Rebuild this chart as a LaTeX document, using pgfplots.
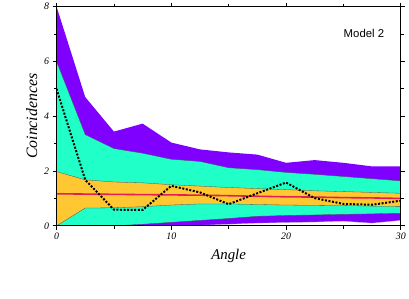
\documentclass[border=0pt]{standalone}
\usepackage{pgfplots}
\pgfplotsset{compat=1.18}
\usepackage{pgfplotstable}
\usepgfplotslibrary{fillbetween}
\usepackage{fontspec}
\setmainfont{Liberation Serif}
\newfontfamily\helv{Liberation Sans}
\definecolor{cpurple}{RGB}{127,0,255}
\definecolor{ccyan}{RGB}{32,255,200}
\definecolor{corange}{RGB}{255,200,50}
\definecolor{cred}{RGB}{225,30,85}
\pgfplotstableread{
x    pt    ct    ot    r     ob    cb    pb    dot
0    8.00  6.00  1.98  1.17  0.00  0.00  0.00  5.00
2.5  4.70  3.33  1.68  1.16  0.65  0.00  0.00  1.68
5    3.44  2.82  1.60  1.15  0.66  0.00  0.00  0.59
7.5  3.73  2.65  1.57  1.14  0.70  0.06  0.00  0.58
10   3.04  2.43  1.50  1.13  0.76  0.13  0.00  1.46
12.5 2.79  2.35  1.45  1.12  0.80  0.20  0.02  1.22
15   2.68  2.12  1.40  1.10  0.80  0.27  0.06  0.79
17.5 2.60  2.05  1.36  1.08  0.78  0.35  0.10  1.19
20   2.30  1.95  1.32  1.06  0.76  0.38  0.12  1.58
22.5 2.40  1.88  1.28  1.05  0.75  0.40  0.14  1.01
25   2.30  1.80  1.25  1.03  0.74  0.42  0.17  0.80
27.5 2.17  1.72  1.22  1.02  0.72  0.44  0.10  0.77
30   2.17  1.64  1.19  1.00  0.71  0.46  0.20  0.92
}\data
\begin{document}
\begin{tikzpicture}
\begin{axis}[
  at={(0,0)}, anchor=south west,
  scale only axis, width=347bp, height=221bp,
  xmin=0, xmax=30, ymin=0, ymax=8,
  xtick={0,10,20,30}, minor xtick={5,15,25},
  ytick={0,2,4,6,8}, minor ytick={1,3,5,7},
  tick align=outside,
  major tick length=4bp, minor tick length=3bp,
  tick style={black, line width=0.8bp},
  axis line style={black, line width=1.2bp},
  axis on top,
  /pgf/number format/assume math mode=true,
  tick label style={font=\itshape\fontsize{10}{10}\selectfont},
  xlabel={\itshape\fontsize{15}{15}\selectfont Angle},
  ylabel={\itshape\fontsize{16}{16}\selectfont Coincidences},
  xlabel style={at={(axis description cs:0.5,0)}, anchor=north, yshift=-20bp},
  ylabel style={at={(axis description cs:0,0.5)}, anchor=south, yshift=16bp},
]
\addplot[name path=pt, draw=none] table[x=x,y=pt]{\data};
\addplot[name path=ct, draw=none] table[x=x,y=ct]{\data};
\addplot[name path=ot, draw=none] table[x=x,y=ot]{\data};
\addplot[name path=ob, draw=none] table[x=x,y=ob]{\data};
\addplot[name path=cb, draw=none] table[x=x,y=cb]{\data};
\addplot[name path=pb, draw=none] table[x=x,y=pb]{\data};
\addplot[cpurple] fill between[of=pt and pb];
\addplot[ccyan] fill between[of=ct and cb];
\addplot[corange] fill between[of=ot and ob];
\addplot[gray!60!black, line width=0.3bp] table[x=x,y=ct]{\data};
\addplot[gray!60!black, line width=0.3bp] table[x=x,y=ot]{\data};
\addplot[gray!60!black, line width=0.3bp] table[x=x,y=ob]{\data};
\addplot[gray!60!black, line width=0.3bp] table[x=x,y=cb]{\data};
\addplot[gray!50, line width=0.3bp] table[x=x,y=pb]{\data};
\addplot[cred, line width=1.6bp] table[x=x,y=r]{\data};
\addplot[black, line width=2bp, dash pattern=on 2bp off 1.6bp] table[x=x,y=dot]{\data};
\node[font=\helv\fontsize{11.5}{11.5}\selectfont, anchor=center] at (rel axis cs:0.893,0.878) {Model 2};
\end{axis}
\path (-57bp,-73bp) (352bp,227bp);
\end{tikzpicture}
\end{document}
